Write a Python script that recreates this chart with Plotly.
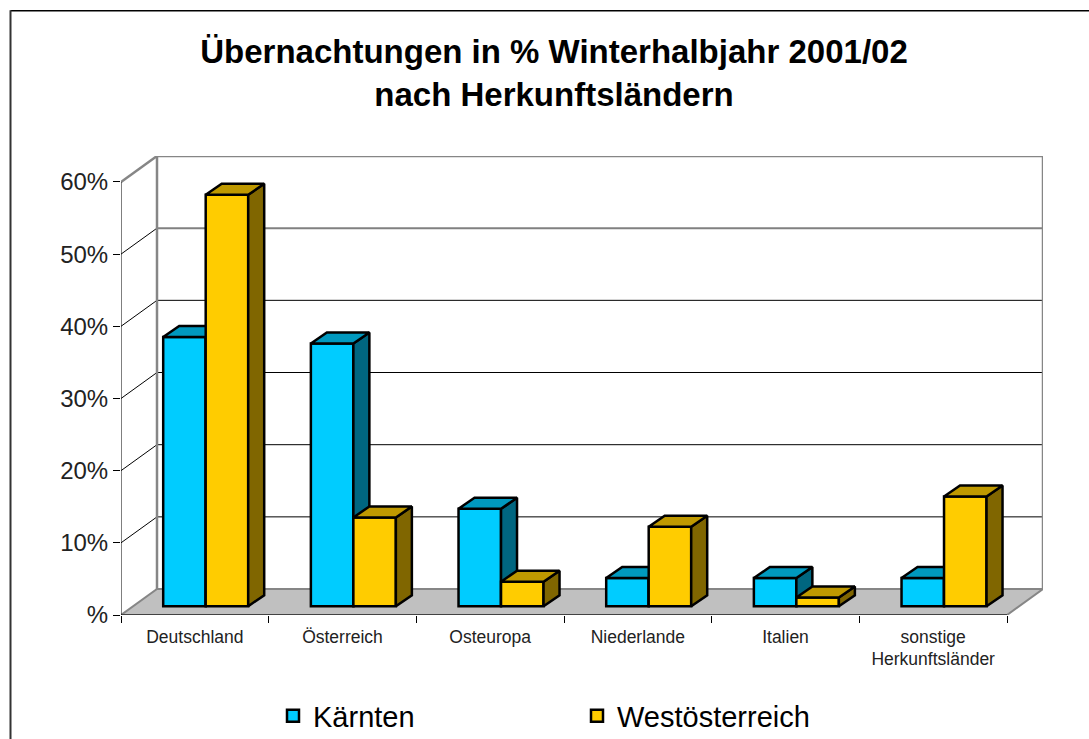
import plotly.graph_objects as go

categories = ["Deutschland", "Österreich", "Osteuropa", "Niederlande", "Italien", "sonstige<br>Herkunftsländer"]
kaernten = [37.3, 36.4, 13.5, 3.9, 3.9, 3.9]
westoesterreich = [57.0, 12.3, 3.4, 11.0, 1.2, 15.2]
y_ticks = [0, 10, 20, 30, 40, 50, 60]
y_tick_labels = ["%", "10%", "20%", "30%", "40%", "50%", "60%"]

W, H = 1089, 739
L, R, T, B = 121, 1043, 156, 615.5
CAT_PX = (1007 - 121) / 6
PX_Y = (B - 182) / 60
xr = [-0.5, -0.5 + (R - L) / CAT_PX]
yr = [0, (B - T) / PX_Y]
px = lambda d: d / CAT_PX
py = lambda d: d / PX_Y
paper_x = lambda p: (p - L) / (R - L)
paper_y = lambda p: (B - p) / (B - T)

DEPTH_X, DEPTH_Y = px(36), py(26)
BAR_DX, BAR_DY = px(16), py(11)
BAR_BASE = py(8.8)
BAR_W = px(42.5)
OFF1 = px(42.2) - 0.5
OFF2 = OFF1 + BAR_W
x0, x1 = -0.5, 5.5
top = 60

GREY = "#868686"
fig = go.Figure()


def poly(xs, ys, fill, line, width, ax=("x", "y")):
    fig.add_trace(go.Scatter(x=xs, y=ys, mode="lines", fill="toself" if fill else None, fillcolor=fill,
                             line=dict(color=line, width=width), showlegend=False, hoverinfo="skip",
                             cliponaxis=False, xaxis=ax[0], yaxis=ax[1]))


# floor
poly([x0, x1, x1 + DEPTH_X, x0 + DEPTH_X, x0], [0, 0, DEPTH_Y, DEPTH_Y, 0], "#C0C0C0", GREY, 2)
# left wall gridlines
for t in y_ticks[1:]:
    poly([x0, x0 + DEPTH_X], [t, t + DEPTH_Y], None, "#000000" if t < 60 else GREY, 1 if t < 60 else 2.5)
# back wall gridlines
for t in y_ticks[1:-1]:
    poly([x0 + DEPTH_X, x1 + DEPTH_X], [t + DEPTH_Y, t + DEPTH_Y], None,
         "#808080" if t == 50 else "#000000", 2 if t == 50 else 1)
# back wall frame
poly([x0 + DEPTH_X, x0 + DEPTH_X, x1 + DEPTH_X, x1 + DEPTH_X],
     [DEPTH_Y, top + DEPTH_Y, top + DEPTH_Y, DEPTH_Y], None, GREY, 2.5)
# axis lines
poly([x0, x0], [0, top], None, "#000000", 1)
poly([x0, x1], [0, 0], None, "#000000", 1)


def series(values, name, off, front, side, top_c, ax):
    xs = list(range(len(values)))
    for i, v in zip(xs, values):
        l, r = i + off, i + off + BAR_W
        b, t = BAR_BASE, BAR_BASE + v
        poly([r, r + BAR_DX, r + BAR_DX, r, r], [b, b + BAR_DY, t + BAR_DY, t, b], side, "#000000", 2.5, ax)
        poly([l, l + BAR_DX, r + BAR_DX, r, l], [t, t + BAR_DY, t + BAR_DY, t, t], top_c, "#000000", 2.5, ax)
    fig.add_trace(go.Bar(x=xs, y=values, base=BAR_BASE, offset=off, width=BAR_W, name=name,
                         marker=dict(color=front, line=dict(color="#000000", width=2.5)),
                         xaxis=ax[0], yaxis=ax[1]))


series(kaernten, "Kärnten", OFF1, "#00CCFF", "#006680", "#0099BF", ("x2", "y2"))
series(westoesterreich, "Westösterreich", OFF2, "#FFCC00", "#806600", "#BF9900", ("x3", "y3"))

font = "Liberation Sans"
fig.update_layout(
    width=W, height=H, autosize=False,
    margin=dict(l=L, r=W - R, t=T, b=H - B, pad=0),
    paper_bgcolor="white", plot_bgcolor="white",
    barmode="overlay",
    font=dict(family=font, color="#000000"),
    title=dict(text="<b>Übernachtungen in % Winterhalbjahr 2001/02<br>nach Herkunftsländern</b>",
               x=554 / W, xanchor="center", xref="container", y=1 - 63 / H, yanchor="middle",
               font=dict(size=33, family=font)),
    xaxis=dict(range=xr, tickmode="array", tickvals=list(range(6)), ticktext=categories, showgrid=False,
               zeroline=False, showline=False, ticks="", tickfont=dict(size=17.5, color="#222222"), ticklen=0,
               ticklabelstandoff=9,
               minor=dict(ticks="outside", ticklen=7, tickcolor="#000000", tickwidth=1, tick0=-0.5, dtick=1, showgrid=False)),
    yaxis=dict(range=yr, tickmode="array", tickvals=y_ticks, ticktext=y_tick_labels, showgrid=False,
               zeroline=False, showline=False, ticks="outside", ticklen=7, tickcolor="#000000", tickwidth=1,
               tickfont=dict(size=24, color="#222222")),
    legend=dict(orientation="h", xref="container", yref="container", x=273 / W, xanchor="left",
                y=1 - 716 / H, yanchor="middle",
                font=dict(size=29), entrywidth=259, entrywidthmode="pixels", bgcolor="rgba(0,0,0,0)",
                traceorder="normal"),
    shapes=[dict(type="line", xref="paper", yref="paper", x0=paper_x(10.5), x1=paper_x(W + 5), y0=paper_y(10.5), y1=paper_y(10.5),
                 line=dict(color="#000000", width=1.5)),
            dict(type="line", xref="paper", yref="paper", x0=paper_x(10.5), x1=paper_x(10.5), y0=paper_y(10), y1=paper_y(H + 10),
                 line=dict(color="#333333", width=2))],
    hovermode=False,
)
for n in (2, 3):
    fig.update_layout({f"xaxis{n}": dict(range=xr, overlaying="x", visible=False),
                       f"yaxis{n}": dict(range=yr, overlaying="y", visible=False)})

fig.write_html("out.html", config=dict(displayModeBar=False),
               post_script="document.body.style.margin='0';document.body.style.overflow='hidden';")
